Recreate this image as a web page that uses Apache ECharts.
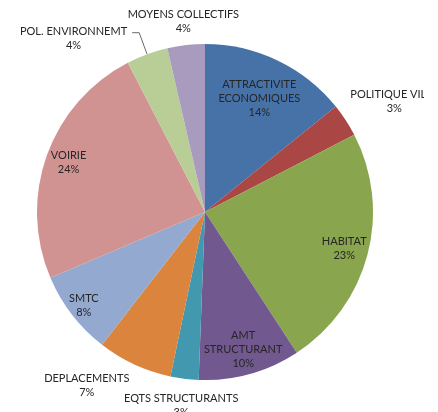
<!DOCTYPE html>
<html>
<head>
<meta charset="utf-8">
<script src="https://cdn.jsdelivr.net/npm/echarts@6/dist/echarts.min.js"></script>
<style>
  html, body { margin: 0; padding: 0; background: #fff; }
  #chart { width: 424px; height: 412px; }
</style>
</head>
<body>
<div id="chart"></div>
<script>
// postes de dépense (ordre horaire depuis midi)
const categories = [
  'ATTRACTIVITE\nECONOMIQUES', 'POLITIQUE VILLE', 'HABITAT', 'AMT\nSTRUCTURANT',
  'EQTS STRUCTURANTS', 'DEPLACEMENTS', 'SMTC', 'VOIRIE', 'POL. ENVIRONNEMT', 'MOYENS COLLECTIFS'
];
const values = [14.2, 3.2, 23.4, 9.8, 2.7, 7.2, 8.1, 23.8, 4.0, 3.6];

const colors = ['#4672a8', '#aa4643', '#89a54e', '#71588f', '#4198af',
                '#db843d', '#93a9cf', '#d19392', '#b9cd96', '#a99bbd'];

// distance du centre de chaque étiquette (null = étiquette avec trait de rappel)
const labelRadius = [123, 217, 141, 140, 192, 207, 150, 142, null, 189];
// petits décalages façon "meilleur ajustement" d'Excel
const labelShift = { 1: [5, 10], 5: [-30, -17], 8: [-2, 6] };

const center = [205, 212];
const radius = 168;
const textColor = '#262626';
const font = 'Lato, "Liberation Sans", sans-serif';

const pctText = p => Math.round(p.percent) + '%';

const chart = echarts.init(document.getElementById('chart'));

const baseData = categories.map((name, i) => ({ name: name, value: values[i] }));

// camembert principal : seule l'étiquette POL. ENVIRONNEMT est reliée par un trait
const mainSeries = {
  type: 'pie',
  center: center,
  radius: [0, radius],
  startAngle: 90,
  clockwise: true,
  avoidLabelOverlap: false,
  itemStyle: { borderWidth: 0 },
  emphasis: { disabled: true },
  data: baseData.map((d, i) => ({
    name: d.name,
    value: d.value,
    itemStyle: { color: colors[i] },
    label: { show: labelRadius[i] === null },
    labelLine: { show: labelRadius[i] === null }
  })),
  label: {
    position: 'outside',
    color: textColor,
    fontFamily: font,
    fontSize: 11,
    lineHeight: 14,
    distanceToLabelLine: 3,
    formatter: p => '{a|' + p.name + '}\n{a|' + pctText(p) + '}',
    rich: { a: { align: 'center', color: textColor, fontFamily: font, fontSize: 11, lineHeight: 14 } }
  },
  labelLine: { length: 23, length2: 7, lineStyle: { color: '#6b6b6b', width: 1 } },
  labelLayout: p => {
    const s = labelShift[p.dataIndex];
    return s ? { dx: s[0], dy: s[1] } : {};
  }
};

// anneaux transparents qui ne servent qu'à placer les étiquettes
const rings = [...new Set(labelRadius.filter(r => r !== null))];
const labelSeries = rings.map(r => ({
  type: 'pie',
  center: center,
  radius: [r - 2, r + 2],
  startAngle: 90,
  clockwise: true,
  silent: true,
  avoidLabelOverlap: false,
  itemStyle: { color: 'rgba(0,0,0,0)' },
  emphasis: { disabled: true },
  data: baseData.map((d, i) => ({
    name: d.name,
    value: d.value,
    label: { show: labelRadius[i] === r }
  })),
  label: {
    position: 'inside',
    color: textColor,
    fontFamily: font,
    fontSize: 11,
    lineHeight: 14,
    formatter: p => p.name + '\n' + pctText(p)
  },
  labelLine: { show: false },
  labelLayout: p => {
    const s = labelShift[p.dataIndex];
    return s ? { dx: s[0], dy: s[1] } : {};
  }
}));

chart.setOption({
  backgroundColor: '#fff',
  animation: false,
  tooltip: { show: false },
  series: [mainSeries].concat(labelSeries)
});
</script>
</body>
</html>
